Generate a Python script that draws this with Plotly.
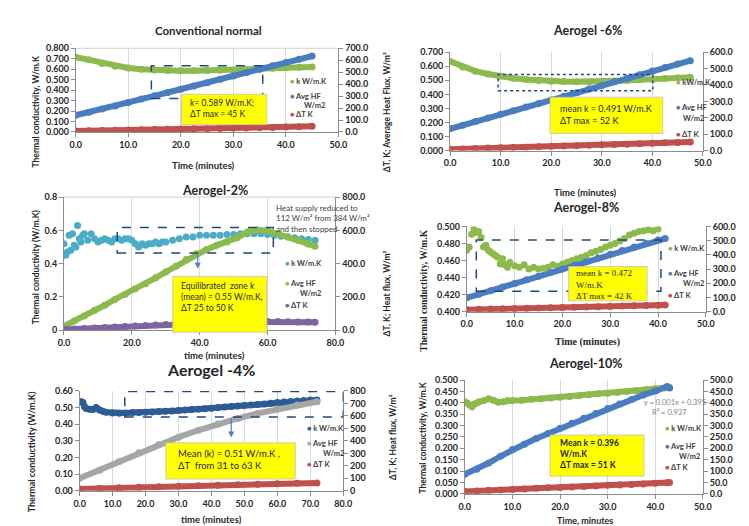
import plotly.graph_objects as go

W, H = 749, 526
FONT = "Lato"
SERIF = "Liberation Serif"

GREEN = "#8DBA4C"
BLUE = "#4A7DC0"
RED = "#C0504D"
CYAN = "#4BACC6"
PURPLE = "#8064A2"
GRAY = "#A6A6A6"
NAVY = "#2D5B96"
BOX = "#1F497D"

# ---------------- data ----------------
# Conventional normal
t1 = [0, 2.5, 5, 7.5, 10, 12.5, 15, 17.5, 20, 22.5, 25, 27.5, 30, 32.5, 35, 37.5, 40, 42.5, 45]
k1 = [0.715, 0.690, 0.655, 0.628, 0.612, 0.600, 0.592, 0.588, 0.585, 0.586, 0.587, 0.589, 0.592,
      0.598, 0.604, 0.610, 0.615, 0.618, 0.620]
hf1 = [140, 165, 192, 218, 247, 275, 302, 330, 358, 385, 412, 440, 468, 497, 525, 553, 580, 608, 635]
dt1 = [8, 10, 12, 14, 16, 18, 20, 22, 24, 26, 28, 30, 32, 34, 36, 38, 41, 44, 47]

# Aerogel -6%
t2 = [0, 2.5, 5, 7.5, 10, 12.5, 15, 17.5, 20, 22.5, 25, 27.5, 30, 32.5, 35, 37.5, 40, 42.5, 45, 47.5]
k2 = [0.635, 0.595, 0.565, 0.545, 0.528, 0.515, 0.505, 0.498, 0.494, 0.491, 0.490, 0.490, 0.492,
      0.495, 0.499, 0.503, 0.508, 0.513, 0.518, 0.522]
hf2 = [133, 155, 177, 199, 221, 243, 265, 287, 309, 331, 353, 375, 397, 419, 441, 463, 485, 507, 528, 548]
dt2 = [8, 10, 12, 15, 17, 19, 21, 23, 26, 28, 30, 32, 35, 37, 39, 42, 44, 47, 50, 52]

# Aerogel-2%
t3 = [0, 3, 6, 9, 12, 15, 18, 21, 24, 27, 30, 33, 36, 39, 42, 45, 48, 51, 54, 57, 60, 63, 66, 69, 72, 74]
hf3 = [25, 55, 85, 120, 150, 185, 215, 250, 280, 315, 350, 385, 425, 460, 485, 510, 530, 555, 590,
       603, 598, 580, 562, 540, 518, 505]
dt3 = [5, 8, 11, 14, 17, 20, 23, 26, 29, 31, 34, 36, 39, 41, 43, 45, 47, 49, 50, 51, 52, 52, 51, 50, 49, 48]
t3k = [0, 0.5, 1, 1.5, 2, 2.5, 3, 3.5, 4, 4.5, 5, 5.5, 6,
       7, 8, 9, 10, 11, 12, 13, 14, 15, 16, 17, 18, 19, 20, 21, 22, 23, 24, 25, 26, 27, 28, 29, 30,
       32, 34, 36, 38, 40, 42, 44, 46, 48, 50, 52, 54, 56, 58, 60, 62, 64, 66, 68, 70, 72, 74]
k3 = [0.52, 0.45, 0.47, 0.57, 0.48, 0.58, 0.51, 0.50, 0.63, 0.55, 0.53, 0.57, 0.58,
      0.54, 0.58, 0.55, 0.53, 0.54, 0.55, 0.54, 0.53, 0.55, 0.55, 0.54, 0.55, 0.55, 0.54, 0.52,
      0.50, 0.52, 0.51, 0.52, 0.52, 0.53, 0.52, 0.53, 0.53,
      0.54, 0.55, 0.56, 0.56, 0.57, 0.57, 0.57, 0.57, 0.575, 0.575, 0.58, 0.58, 0.58, 0.58, 0.575,
      0.57, 0.565, 0.56, 0.555, 0.55, 0.545, 0.54]

# Aerogel-8%
t4 = [0, 2.5, 5, 7.5, 10, 12.5, 15, 17.5, 20, 22.5, 25, 27.5, 30, 32.5, 35, 37.5, 40, 41.5]
hf4 = [97, 122, 148, 173, 199, 225, 250, 276, 301, 327, 352, 378, 404, 430, 455, 480, 505, 515]
dt4 = [14, 16, 18, 20, 22, 24, 26, 28, 30, 31, 33, 35, 37, 39, 41, 43, 45, 46]
t4k = [0, 0.5, 1, 1.5, 2, 2.5, 3, 3.5, 4, 4.5, 5, 5.5, 6, 6.5, 7, 7.5, 8, 8.5, 9,
       10, 11, 12, 13, 14, 15, 16, 17, 18, 19, 20, 21, 22, 23, 24, 25, 26, 27, 28, 29, 30,
       31, 32, 33, 34, 35, 36, 37, 38, 39, 40]
k4 = [0.472, 0.476, 0.491, 0.497, 0.493, 0.494, 0.487, 0.476, 0.478, 0.472, 0.470, 0.468, 0.466,
      0.464, 0.456, 0.462, 0.455, 0.452, 0.458,
      0.454, 0.452, 0.455, 0.450, 0.452, 0.450, 0.451, 0.452, 0.455, 0.453,
      0.456, 0.458, 0.460, 0.462, 0.464, 0.466, 0.469, 0.471, 0.473, 0.476,
      0.478, 0.480, 0.483, 0.486, 0.490, 0.492, 0.494, 0.495, 0.496, 0.495, 0.497]

# Aerogel -4%
t5 = [0, 6, 12, 18, 24, 30, 36, 42, 48, 54, 60, 66, 72]
hf5 = [100, 165, 235, 305, 370, 430, 485, 535, 580, 620, 655, 688, 714]
dt5 = [15, 20, 24, 28, 32, 36, 40, 44, 48, 52, 56, 60, 63]
t5k = [0, 0.5, 1, 1.5, 2, 3, 4, 5, 6, 7, 8,
       10, 12, 14, 16, 18, 20, 22, 24, 26, 28, 30, 32, 34, 36, 38, 40, 42, 44, 46, 48, 50, 52, 54,
       56, 58, 60, 62, 64, 66, 68, 70, 72]
k5 = [0.535, 0.535, 0.530, 0.505, 0.495, 0.490, 0.488, 0.500, 0.485, 0.478, 0.472,
      0.468, 0.466, 0.468, 0.470, 0.470, 0.472, 0.474, 0.476, 0.478, 0.480, 0.482, 0.485, 0.488,
      0.490, 0.493, 0.496, 0.500, 0.503, 0.506, 0.509, 0.512, 0.515, 0.518, 0.522, 0.526, 0.530,
      0.534, 0.537, 0.540, 0.543, 0.546, 0.545]

# Aerogel-10%
t6 = [0, 2.5, 5, 7.5, 10, 12.5, 15, 17.5, 20, 22.5, 25, 27.5, 30, 32.5, 35, 37.5, 40, 42.5, 43]
hf6 = [86, 108, 135, 165, 195, 218, 243, 265, 288, 310, 332, 353, 375, 395, 415, 435, 452, 472, 466]
dt6 = [10, 12, 15, 17, 19, 21, 24, 26, 28, 30, 32, 34, 37, 39, 41, 43, 46, 48, 49]
t6k = [0, 0.5, 1, 1.5, 2, 2.5, 3, 4, 5, 6, 7, 8, 9, 10,
       12, 14, 16, 18, 20, 22, 24, 26, 28, 30, 32, 34, 36, 38, 40, 42, 43]
k6 = [0.405, 0.400, 0.392, 0.383, 0.395, 0.400, 0.405, 0.410, 0.418, 0.412, 0.403, 0.405, 0.410,
      0.410, 0.412, 0.416, 0.418, 0.422, 0.425, 0.428, 0.432, 0.436, 0.440, 0.442, 0.446, 0.450,
      0.454, 0.458, 0.462, 0.466, 0.468]

# ---------------- layout of panels (pixel boxes) ----------------
panels = [
    dict(x=(63, 331), y=(35, 120.5), xr=[0, 50], xd=10, yl=[0, 0.8], yld=0.1, ylf=".3f",
         yr=[0, 700], yrd=100, yrf=".1f", border=True),
    dict(x=(445, 703), y=(39, 139.5), xr=[0, 50], xd=10, yl=[0, 0.7], yld=0.1, ylf=".3f",
         yr=[0, 600], yrd=100, yrf=".1f", border=False),
    dict(x=(51, 328), y=(187, 323), xr=[0, 80], xd=20, yl=[0, 0.8], yld=0.2, ylf="",
         yr=[0, 800], yrd=200, yrf=".1f", border=True),
    dict(x=(462, 706), y=(217, 304), xr=[0, 50], xd=10, yl=[0.4, 0.5], yld=0.02, ylf=".3f",
         yr=[0, 600], yrd=100, yrf=".1f", border=False),
    dict(x=(67, 336), y=(385, 487), xr=[0, 80], xd=10, yl=[0, 0.6], yld=0.1, ylf=".2f",
         yr=[0, 800], yrd=100, yrf="d", border=False),
    dict(x=(460, 703), y=(374, 490), xr=[0, 50], xd=10, yl=[0, 0.5], yld=0.05, ylf=".3f",
         yr=[0, 500], yrd=50, yrf=".1f", border=False),
]


def refs(i):
    xr = "x" if i == 1 else f"x{i}"
    yl = "y" if i == 1 else f"y{2 * i - 1}"
    yr = f"y{2 * i}"
    return xr, yl, yr


fig = go.Figure()


def series(i, t, v, color, right, lines=True, size=7):
    xr, yl, yr = refs(i)
    fig.add_trace(go.Scatter(
        x=t, y=v, xaxis=xr, yaxis=yr if right else yl,
        mode="lines+markers" if lines else "markers",
        line=dict(color=color, width=6),
        marker=dict(color=color, size=size),
        showlegend=False, hoverinfo="skip"))


series(1, t1, k1, GREEN, False)
series(1, t1, hf1, BLUE, True)
series(1, t1, dt1, RED, True)

series(2, t2, k2, GREEN, False)
series(2, t2, hf2, BLUE, True)
series(2, t2, dt2, RED, True)

series(3, t3k, k3, CYAN, False, lines=False, size=7)
series(3, t3, hf3, GREEN, True)
series(3, t3, dt3, PURPLE, True)

series(4, t4k, k4, GREEN, False, lines=False, size=7)
series(4, t4, hf4, BLUE, True)
series(4, t4, dt4, RED, True)

series(5, t5k, k5, NAVY, False)
series(5, t5, hf5, GRAY, True)
series(5, t5, dt5, RED, True)

series(6, t6k, k6, GREEN, False)
series(6, t6, hf6, BLUE, True)
series(6, t6, dt6, RED, True)

layout = dict(width=W, height=H, autosize=False, margin=dict(l=0, r=0, t=0, b=0),
              paper_bgcolor="white", plot_bgcolor="white", showlegend=False)

tickfont = dict(family=FONT, size=9, color="#262626", weight="bold")
axcommon = dict(showline=True, linecolor="#8C8C8C", linewidth=1, ticks="outside", ticklen=4,
                tickcolor="#8C8C8C", zeroline=False, tickfont=tickfont, fixedrange=True)

shapes = []

for i, p in enumerate(panels, start=1):
    xr, yl, yr = refs(i)
    xname = "xaxis" if i == 1 else f"xaxis{i}"
    ylname = "yaxis" if i == 1 else f"yaxis{2 * i - 1}"
    yrname = f"yaxis{2 * i}"
    xd = [p["x"][0] / W, p["x"][1] / W]
    yd = [1 - p["y"][1] / H, 1 - p["y"][0] / H]
    layout[xname] = dict(domain=xd, range=p["xr"], anchor=yl, tick0=0, dtick=p["xd"],
                         tickformat=".1f", showgrid=True, gridcolor="#D9D9D9", gridwidth=1,
                         **axcommon)
    layout[ylname] = dict(domain=yd, range=p["yl"], anchor=xr, tick0=p["yl"][0], dtick=p["yld"],
                          tickformat=p["ylf"], showgrid=False, **axcommon)
    layout[yrname] = dict(domain=yd, range=p["yr"], anchor=xr, overlaying=yl, side="right",
                          tick0=0, dtick=p["yrd"], tickformat=p["yrf"], showgrid=False, **axcommon)
    if p["border"]:
        shapes.append(dict(type="line", xref="paper", yref="paper", x0=xd[0], x1=xd[1],
                           y0=yd[1], y1=yd[1], line=dict(color="#D0D0D0", width=1), layer="below"))

anns = []


def txt(text, x, y, size=9, color="#262626", bold=True, xanchor="center", yanchor="middle",
        angle=0, family=FONT, align="center"):
    anns.append(dict(text=text, x=x / W, y=1 - y / H, xref="paper", yref="paper",
                     showarrow=False, xanchor=xanchor, yanchor=yanchor, textangle=angle,
                     align=align,
                     font=dict(family=family, size=size, color=color,
                               weight="bold" if bold else "normal")))


# titles
txt("Conventional normal", 198, 17, 11.5)
txt("Aerogel -6%", 585, 17, 12.5)
txt("Aerogel-2%", 205, 180, 12.5)
txt("Aerogel-8%", 584, 198, 12.5)
txt("Aerogel -4%", 201, 363, 16)
txt("Aerogel-10%", 583, 357, 12.5)

# x titles
txt("Time (minutes)", 193, 155, 9.5)
txt("Time (minutes)", 583, 182, 9.5)
txt("time (minutes)", 205, 349, 9.5)
txt("Time (minutes)", 585, 335, 10, family=SERIF)
txt("time (minutes)", 202, 516, 9.5)
txt("Time, minutes", 583, 517, 9)

# y titles
txt("Thermal conductivity, W/m.K", 22, 100, 8.5, angle=-90)
txt("ΔT, K; Average Heat Flux, W/m²", 381, 100, 8.5, angle=-90)
txt("Thermal conductivity (W/m.K)", 22, 258, 8.5, angle=-90)
txt("ΔT, K; Heat flux, W/m²", 381, 285, 8.5, angle=-90)
txt("Thermal conductivity, W/m.K", 418, 283, 9.5, angle=-90, family=SERIF)
txt("Thermal conductivity (W/m.K)", 18, 447, 9, angle=-90)
txt("ΔT, K; Heat flux, W/m²", 387, 432, 8.5, angle=-90)
txt("Thermal conductivity, W/m.K", 417, 433, 8.5, angle=-90)


# legends
def legend(mx, entries, wm2):
    for label, color, y in entries:
        txt(f"<span style='color:{color}'>●</span> {label}", mx - 3, y, 7.5, color="#404040",
            xanchor="left")
    txt("W/m2", wm2[0], wm2[1], 7.5, color="#404040", xanchor="left")


legend(283, [("k W/m.K", GREEN, 69), ("Avg HF", BLUE, 84.5), ("ΔT K", RED, 103)], (294, 93.5))
legend(676, [("kW/m.K", GREEN, 70), ("Avg HF", BLUE, 96), ("ΔT K", RED, 123)], (681, 107))
legend(278, [("k W/m.K", CYAN, 255), ("Avg HF", GREEN, 275), ("ΔT K", PURPLE, 298)], (290, 285))
legend(668, [("k W/m.K", GREEN, 240), ("Avg HF", BLUE, 265), ("ΔT K", RED, 288)], (681, 275))
legend(300, [("k W/m.K", NAVY, 423), ("Avg HF", GRAY, 439), ("ΔT K", RED, 460)], (313, 449))
legend(665, [("k W/m.K", GREEN, 423), ("Avg HF", BLUE, 442), ("ΔT K", RED, 463)], (677, 451.5))


def ybox(x0, y0, x1, y1):
    shapes.append(dict(type="rect", xref="paper", yref="paper", x0=x0 / W, x1=x1 / W,
                       y0=1 - y1 / H, y1=1 - y0 / H, fillcolor="#FFFF00",
                       line=dict(color="#BFBFBF", width=0.8), layer="above"))


def dbox(i, t0, t1_, v0, v1, dash="dash"):
    xr, yl, yr = refs(i)
    shapes.append(dict(type="rect", xref=xr, yref=yl, x0=t0, x1=t1_, y0=v0, y1=v1,
                       line=dict(color=BOX, width=1.5, dash=dash), layer="above"))


def arrow(i, t, v_from, v_to):
    xr, yl, yr = refs(i)
    anns.append(dict(x=t, y=v_to, ax=t, ay=v_from, xref=xr, yref=yl, axref=xr, ayref=yl,
                     showarrow=True, arrowhead=2, arrowsize=1, arrowwidth=1.2,
                     arrowcolor="#4F81BD", text=""))


# dashed zones
dbox(1, 14.4, 35.6, 0.321, 0.633)
dbox(2, 9.5, 40.1, 0.426, 0.542, dash="dot")
dbox(3, 15.7, 61.7, 0.464, 0.617)
dbox(4, 2.0, 40.6, 0.4238, 0.484)
dbox(5, 13.7, 80.0, 0.443, 0.596)
arrow(3, 39.4, 0.464, 0.37)
arrow(5, 46, 0.443, 0.32)

# yellow boxes
ybox(171, 82, 258, 113)
ybox(547, 85, 662, 122)
ybox(162, 268, 258, 325)
ybox(566, 258, 646, 293)
ybox(155, 438, 287, 475)
ybox(547, 430, 643, 472)

txt("k= 0.589 W/m.K;<br>ΔT max = 45 K", 178, 97, 8.5, color="#262626", bold=False,
    xanchor="left", align="left")
txt("mean k = 0.491 W/m.K<br>ΔT max = 52 K", 555, 103, 9, color="#262626", bold=False,
    xanchor="left", align="left")
txt("Equilibrated  zone k<br>(mean) = 0.55 W/m.K,<br>ΔT 25 to 50 K", 168, 289, 8.5,
    color="#262626", bold=False, xanchor="left", align="left")
txt("mean k = 0.472<br>W/m.K<br>ΔT max = 42 K", 571, 276, 9, color="#262626", bold=False,
    xanchor="left", align="left", family=SERIF)
txt("Mean (k) = 0.51 W/m.K ,<br>ΔT  from 31 to 63 K", 165, 455, 9.5, color="#262626",
    bold=False, xanchor="left", align="left")
txt("Mean k = 0.396<br>W/m.K<br>ΔT max = 51 K", 555, 449, 8.5, color="#262626",
    xanchor="left", align="left")

# notes
txt("Heat supply reduced to<br>112 W/m² from 384 W/m²<br>and then stopped", 265, 209, 8,
    color="#404040", bold=False, xanchor="left", align="left")
txt("y = 0.001x + 0.395", 708, 397, 7.5, color="#7F7F7F", bold=False, xanchor="right")
txt("R² = 0.937", 689, 407, 7.5, color="#7F7F7F", bold=False, xanchor="right")

layout["annotations"] = anns
layout["shapes"] = shapes
fig.update_layout(**layout)
fig.write_html("out.html")
